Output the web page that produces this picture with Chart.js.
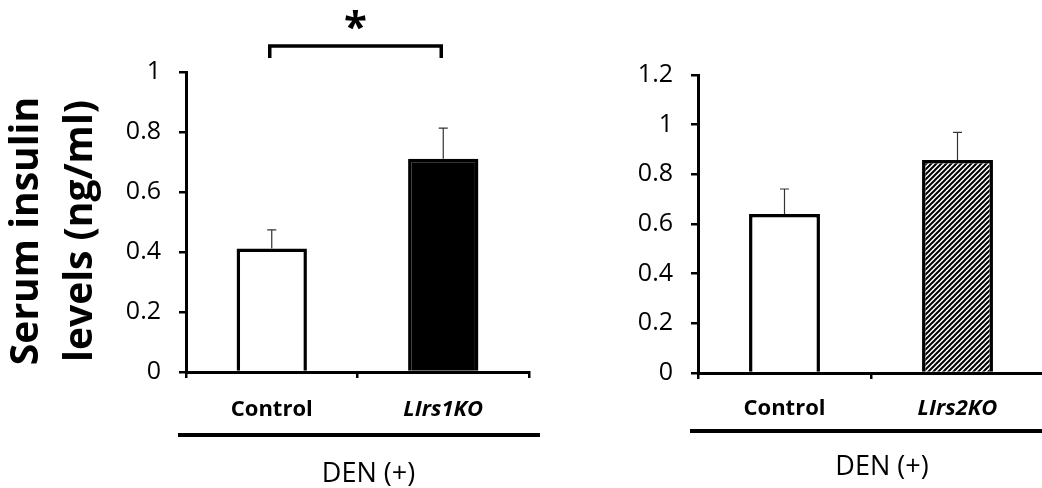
<!DOCTYPE html>
<html>
<head>
<meta charset="utf-8">
<script src="https://cdn.jsdelivr.net/npm/chart.js@4/dist/chart.umd.min.js"></script>
<style>
  html, body { margin: 0; padding: 0; background: #fff; overflow: hidden; }
  #wrap { position: relative; width: 1042px; height: 488px; }
  #c1 { position: absolute; left: 0; top: 0; }
  #c2 { position: absolute; left: 560px; top: 0; }
</style>
</head>
<body>
<div id="wrap">
  <canvas id="c1" width="560" height="488"></canvas>
  <canvas id="c2" width="484" height="488"></canvas>
</div>
<script>
// data
const leftCategories = ['Control', 'LIrs1KO'];
const leftValues = [0.412, 0.711];
const leftErrors = [0.062, 0.102];
const leftTicks = [0, 0.2, 0.4, 0.6, 0.8, 1];

const rightCategories = ['Control', 'LIrs2KO'];
const rightValues = [0.640, 0.858];
const rightErrors = [0.101, 0.111];
const rightTicks = [0, 0.2, 0.4, 0.6, 0.8, 1, 1.2];

const yTitle = ['Serum insulin', 'levels (ng/ml)'];
const groupLabel = 'DEN (+)';
const sigMark = '*';

const FONT = "'Open Sans', sans-serif";

// hatched fill for the LIrs2KO bar
function makeHatch() {
  const s = 5;
  const c = document.createElement('canvas');
  c.width = s; c.height = s;
  const g = c.getContext('2d');
  g.fillStyle = '#fff';
  g.fillRect(0, 0, s, s);
  g.strokeStyle = '#000';
  g.lineWidth = 2;
  g.beginPath();
  g.moveTo(-1, s + 1); g.lineTo(s + 1, -1);
  g.moveTo(-1, 1); g.lineTo(1, -1);
  g.moveTo(s - 1, s + 1); g.lineTo(s + 1, s - 1);
  g.stroke();
  return g.createPattern(c, 'repeat');
}

// error bars (upper only), bracket, underline, group label and y title
const extrasPlugin = {
  id: 'extras',
  afterDatasetsDraw(chart, args, opts) {
    const ctx = chart.ctx;
    const meta = chart.getDatasetMeta(0);
    const y = chart.scales.y;
    ctx.save();
    ctx.strokeStyle = '#333';
    ctx.lineWidth = 1.2;
    meta.data.forEach((bar, i) => {
      const top = y.getPixelForValue(opts.values[i] + opts.errors[i]);
      ctx.beginPath();
      ctx.moveTo(bar.x, bar.y);
      ctx.lineTo(bar.x, top);
      ctx.moveTo(bar.x - 4.5, top);
      ctx.lineTo(bar.x + 4.5, top);
      ctx.stroke();
    });
    ctx.restore();
  },
  afterDraw(chart, args, opts) {
    const ctx = chart.ctx;
    const area = chart.chartArea;
    ctx.save();
    // line under the category labels
    ctx.strokeStyle = '#000';
    ctx.lineWidth = 4;
    ctx.beginPath();
    ctx.moveTo(area.left - 8, area.bottom + opts.lineGap);
    ctx.lineTo(area.right + opts.lineExtend, area.bottom + opts.lineGap);
    ctx.stroke();
    ctx.fillStyle = '#000';
    ctx.font = '27px ' + FONT;
    ctx.textAlign = 'center';
    ctx.textBaseline = 'middle';
    ctx.fillText(groupLabel, (area.left + area.right) / 2 + 11, area.bottom + opts.labelGap);
    if (opts.bracket) {
      const meta = chart.getDatasetMeta(0);
      const x0 = meta.data[0].x - 2, x1 = meta.data[1].x - 2;
      const by = opts.bracketY;
      ctx.lineWidth = 3.5;
      ctx.lineCap = 'butt';
      ctx.beginPath();
      ctx.moveTo(x0, by + 12);
      ctx.lineTo(x0, by);
      ctx.lineTo(x1, by);
      ctx.lineTo(x1, by + 12);
      ctx.stroke();
      ctx.font = 'bold 42px ' + FONT;
      ctx.fillText(sigMark, (x0 + x1) / 2, by - 17);
    }
    if (opts.title) {
      // two-line rotated axis title
      ctx.translate(0, (area.top + area.bottom) / 2 + 9);
      ctx.rotate(-Math.PI / 2);
      ctx.font = 'bold 39px ' + FONT;
      ctx.fillText(yTitle[0], 0, 27);
      ctx.fillText(yTitle[1], 0, 81);
    }
    ctx.restore();
  }
};

function makeChart(el, cats, vals, errs, ticks, fills, cfg) {
  return new Chart(el.getContext('2d'), {
    type: 'bar',
    data: {
      labels: cats,
      datasets: [{
        data: vals,
        backgroundColor: fills,
        borderColor: '#000',
        borderWidth: 3.5,
        borderSkipped: 'bottom',
        categoryPercentage: 1,
        barPercentage: 0.41
      }]
    },
    options: {
      responsive: false,
      animation: false,
      layout: { padding: { top: cfg.top, right: cfg.right, left: 0, bottom: 0 } },
      plugins: {
        legend: { display: false },
        tooltip: { enabled: false },
        extras: {
          values: vals, errors: errs,
          lineGap: cfg.lineGap, lineExtend: cfg.lineExtend, labelGap: cfg.labelGap,
          bracket: cfg.bracket, bracketY: 46, title: cfg.showTitle
        }
      },
      scales: {
        x: {
          afterFit: s => { s.height = cfg.xHeight; },
          grid: { offset: true, drawOnChartArea: false, tickLength: 6, color: '#000', lineWidth: 2.5 },
          border: { color: '#000', width: 3 },
          ticks: {
            color: '#000',
            padding: cfg.labelPad,
            font: c => ({ family: FONT, size: 22, weight: 'bold', style: c.index === 1 ? 'italic' : 'normal' })
          }
        },
        y: {
          min: 0,
          max: ticks[ticks.length - 1],
          afterFit: s => { s.width = cfg.yWidth; },
          afterBuildTicks: s => { s.ticks = ticks.map(v => ({ value: v })); },
          grid: { drawOnChartArea: false, tickLength: 7, color: '#000', lineWidth: 2.5 },
          border: { color: '#000', width: 3 },
          ticks: {
            color: '#000',
            padding: 18,
            font: { family: FONT, size: 25 },
            callback: v => String(Math.round(v * 10) / 10)
          }
        }
      }
    },
    plugins: [extrasPlugin]
  });
}

makeChart(document.getElementById('c1'), leftCategories, leftValues, leftErrors, leftTicks,
  ['#fff', '#000'],
  { top: 72, right: 31, xHeight: 116, yWidth: 186, lineGap: 63, lineExtend: 11, labelGap: 102, labelPad: 19, bracket: true, showTitle: true });

makeChart(document.getElementById('c2'), rightCategories, rightValues, rightErrors, rightTicks,
  ['#fff', makeHatch()],
  { top: 75, right: 0, xHeight: 115, yWidth: 138, lineGap: 58, lineExtend: 20, labelGap: 94, labelPad: 17, bracket: false, showTitle: false });
</script>
</body>
</html>
